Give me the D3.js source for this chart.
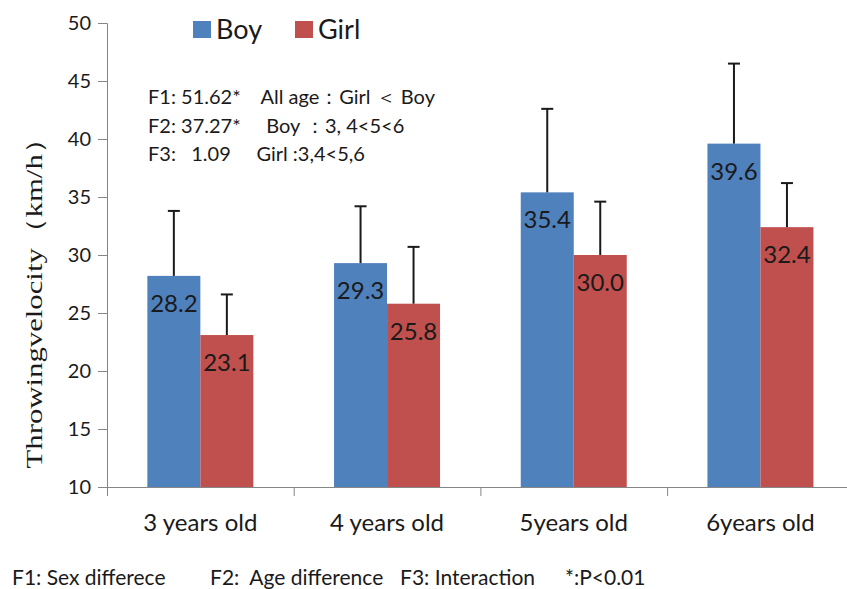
<!DOCTYPE html>
<html>
<head>
<meta charset="utf-8">
<script src="https://cdn.jsdelivr.net/npm/d3@7"></script>
<style>
  body { margin: 0; background: #fff; }
  text { font-family: Lato, "Noto Sans", sans-serif; fill: #1a1a1a; }
</style>
</head>
<body>
<script>
// data
var ages = ["3 years old", "4 years old", "5years old", "6years old"];
var groups = ["Boy", "Girl"];
var boyMean = [28.2, 29.3, 35.4, 39.6];
var girlMean = [23.1, 25.8, 30.0, 32.4];
var boySD = [5.6, 4.9, 7.2, 6.9];
var girlSD = [3.5, 4.9, 4.6, 3.8];
var yTicks = [10, 15, 20, 25, 30, 35, 40, 45, 50];
var colors = ["#4F81BD", "#C0504D"];

var notes = [
  "F1: 51.62*    All age\uFF1AGirl \uFF1C Boy",
  "F2: 37.27*     Boy \uFF1A3, 4<5<6",
  "F3:   1.09     Girl :3,4<5,6"
];
var footnotes = [
  {t: "F1: Sex differece", x: 12},
  {t: "F2:  Age difference", x: 210},
  {t: "F3: Interaction", x: 400},
  {t: "*:P<0.01", x: 565}
];

var svgWidth = 847, svgHeight = 589;

var svg = d3.select("body").append("svg")
    .attr("width", svgWidth)
    .attr("height", svgHeight);

var rows = ages.map(function(a, i) {
  return {age: a, vals: [
    {g: "Boy", m: boyMean[i], sd: boySD[i]},
    {g: "Girl", m: girlMean[i], sd: girlSD[i]}
  ]};
});

var yScale = d3.scaleLinear().domain([10, 50]).range([487, 23]);
var xScale = d3.scaleBand().domain(ages).range([107, 107 + 4 * 186.7]).padding(0);
var xIdx = d3.scaleLinear().domain([0, 4]).range([107, 107 + 4 * 186.7]);
var inner = d3.scaleBand().domain(groups)
    .range([(186.7 - 106) / 2, (186.7 + 106) / 2]).padding(0);

// y axis
var yAxis = svg.append("g")
    .attr("transform", "translate(107,0)")
    .call(d3.axisLeft(yScale).tickValues(yTicks).tickSize(9).tickPadding(7));
yAxis.selectAll("line").attr("stroke", "#868686");
yAxis.select(".domain").attr("stroke", "#868686");
yAxis.selectAll("text").style("font-size", "20px").attr("fill", "#1a1a1a");

// x axis: ticks at the boundaries between categories
var xAxis = svg.append("g")
    .attr("transform", "translate(0,487)")
    .call(d3.axisBottom(xIdx).tickValues([0, 1, 2, 3, 4]).tickSize(9).tickFormat(""));
xAxis.selectAll("line").attr("stroke", "#868686");
xAxis.select(".domain").attr("stroke", "#868686");

svg.append("g").selectAll("text")
    .data(ages)
    .enter()
    .append("text")
    .attr("x", d => xScale(d) + xScale.bandwidth() / 2)
    .attr("y", 531)
    .attr("text-anchor", "middle")
    .style("font-size", "24px")
    .text(d => d);

// bars
var cat = svg.append("g").selectAll("g")
    .data(rows)
    .enter()
    .append("g")
    .attr("transform", d => `translate(${xScale(d.age)},0)`);

cat.selectAll("rect")
    .data(d => d.vals)
    .enter()
    .append("rect")
    .attr("x", d => inner(d.g))
    .attr("width", inner.bandwidth())
    .attr("y", d => yScale(d.m))
    .attr("height", d => yScale(10) - yScale(d.m))
    .attr("fill", (d, i) => colors[i]);

// error bars (upper only)
cat.selectAll("line.err")
    .data(d => d.vals)
    .enter()
    .append("line")
    .attr("class", "err")
    .attr("x1", d => inner(d.g) + inner.bandwidth() / 2)
    .attr("x2", d => inner(d.g) + inner.bandwidth() / 2)
    .attr("y1", d => yScale(d.m))
    .attr("y2", d => yScale(d.m + d.sd))
    .attr("stroke", "#1a1a1a")
    .attr("stroke-width", 2);

cat.selectAll("line.cap")
    .data(d => d.vals)
    .enter()
    .append("line")
    .attr("class", "cap")
    .attr("x1", d => inner(d.g) + inner.bandwidth() / 2 - 6)
    .attr("x2", d => inner(d.g) + inner.bandwidth() / 2 + 6)
    .attr("y1", d => yScale(d.m + d.sd))
    .attr("y2", d => yScale(d.m + d.sd))
    .attr("stroke", "#1a1a1a")
    .attr("stroke-width", 2);

cat.selectAll("text.val")
    .data(d => d.vals)
    .enter()
    .append("text")
    .attr("class", "val")
    .attr("x", d => inner(d.g) + inner.bandwidth() / 2)
    .attr("y", d => yScale(d.m) + 36)
    .attr("text-anchor", "middle")
    .style("font-size", "24px")
    .text(d => d.m.toFixed(1));

// y label, stretched along its length like the original
svg.append("text")
    .attr("transform", "translate(42,296) rotate(-90)")
    .attr("text-anchor", "middle")
    .attr("textLength", 345)
    .attr("lengthAdjust", "spacingAndGlyphs")
    .style("font-family", "'Liberation Serif', 'Times New Roman', serif")
    .style("font-size", "23px")
    .text("Throwingvelocity\uFF08km/h\uFF09");

// legend
var legend = svg.append("g").selectAll("g")
    .data(groups)
    .enter()
    .append("g")
    .attr("transform", (d, i) => `translate(${193 + i * 102},21)`);
legend.append("rect")
    .attr("width", 18).attr("height", 17)
    .attr("fill", (d, i) => colors[i]);
legend.append("text")
    .attr("x", 23).attr("y", 18)
    .style("font-size", "27px")
    .text(d => d);

// stats notes
svg.append("g").selectAll("text")
    .data(notes)
    .enter()
    .append("text")
    .attr("x", 148)
    .attr("y", (d, i) => 104 + i * 28.5)
    .style("font-size", "20px")
    .style("white-space", "pre")
    .text(d => d);

svg.append("g").selectAll("text")
    .data(footnotes)
    .enter()
    .append("text")
    .attr("x", d => d.x)
    .attr("y", 585)
    .style("font-size", "21px")
    .style("white-space", "pre")
    .text(d => d.t);
</script>
</body>
</html>
